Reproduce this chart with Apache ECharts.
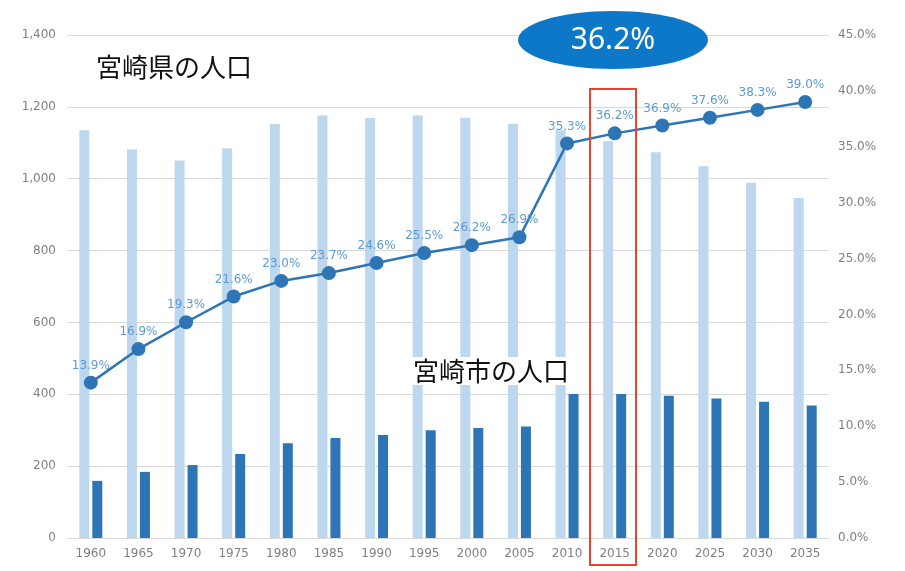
<!DOCTYPE html>
<html>
<head>
<meta charset="utf-8">
<script src="https://cdn.jsdelivr.net/npm/echarts@6/dist/echarts.min.js"></script>
<style>
  html, body { margin: 0; padding: 0; background: #ffffff; }
  #chart { width: 905px; height: 571px; }
</style>
</head>
<body>
<div id="chart"></div>
<script>
// Census years and projections
const years = ['1960','1965','1970','1975','1980','1985','1990','1995','2000','2005','2010','2015','2020','2025','2030','2035'];
// Prefecture population (thousands)
const prefPop = [1135,1081,1051,1085,1152,1176,1169,1176,1170,1153,1135,1104,1074,1035,989,946];
// City population (thousands)
const cityPop = [159,184,203,234,264,278,287,300,306,310,401,401,396,388,379,369];
// Share of the city in the prefecture (%)
const cityShare = [13.9,16.9,19.3,21.6,23.0,23.7,24.6,25.5,26.2,26.9,35.3,36.2,36.9,37.6,38.3,39.0];
const highlightYear = '2015';

const hiIdx = years.indexOf(highlightYear);
const axisFont = 'DejaVu Sans';
const jpFont = '"Noto Sans CJK JP", "Noto Sans", sans-serif';

const chart = echarts.init(document.getElementById('chart'));
chart.setOption({
  animation: false,
  backgroundColor: '#ffffff',
  grid: { left: 67, right: 76, top: 35, bottom: 33 },
  xAxis: {
    type: 'category',
    data: years,
    axisTick: { show: false },
    axisLine: { lineStyle: { color: '#D9D9D9', width: 1 } },
    axisLabel: { color: '#808080', fontFamily: axisFont, fontSize: 12, margin: 10 }
  },
  yAxis: [
    {
      type: 'value', min: 0, max: 1400, interval: 200,
      axisLine: { show: false }, axisTick: { show: false },
      splitLine: { lineStyle: { color: '#D9D9D9', width: 1 } },
      axisLabel: {
        color: '#808080', fontFamily: axisFont, fontSize: 12, margin: 11,
        formatter: v => v.toLocaleString('en-US')
      }
    },
    {
      type: 'value', min: 0, max: 45, interval: 5,
      axisLine: { show: false }, axisTick: { show: false },
      splitLine: { show: false },
      axisLabel: {
        color: '#808080', fontFamily: axisFont, fontSize: 12, margin: 9,
        formatter: v => v.toFixed(1) + '%'
      }
    }
  ],
  series: [
    {
      name: '宮崎県の人口', type: 'bar', data: prefPop,
      barWidth: 10, barGap: '30%',
      itemStyle: { color: '#BDD7EE' }
    },
    {
      name: '宮崎市の人口', type: 'bar', data: cityPop,
      barWidth: 10,
      itemStyle: { color: '#2E75B6' }
    },
    {
      name: '割合', type: 'line', yAxisIndex: 1, data: cityShare,
      symbol: 'circle', symbolSize: 14,
      lineStyle: { color: '#2E75B6', width: 2.5 },
      itemStyle: { color: '#2E75B6' },
      label: {
        show: true, position: 'top', distance: 4,
        color: '#5B9BD5', fontFamily: axisFont, fontSize: 12,
        formatter: p => p.value.toFixed(1) + '%'
      },
      z: 5
    }
  ],
  graphic: [
    {
      type: 'text', left: 95, top: 53, z: 20,
      style: { text: '宮崎県の人口', fill: '#111111', font: '26px ' + jpFont,
               backgroundColor: '#ffffff', padding: [1, 1] }
    },
    {
      type: 'text', left: 412, top: 357, z: 20,
      style: { text: '宮崎市の人口', fill: '#111111', font: '26px ' + jpFont,
               backgroundColor: '#ffffff', padding: [1, 1] }
    },
    {
      type: 'rect', z: 20,
      shape: { x: 590, y: 89, width: 46, height: 476 },
      style: { fill: 'none', stroke: '#E8442E', lineWidth: 2 }
    },
    {
      type: 'ellipse', z: 20,
      shape: { cx: 613, cy: 40, rx: 95, ry: 29 },
      style: { fill: '#0E78C8' }
    },
    {
      type: 'text', x: 613, y: 40, z: 21,
      style: {
        text: cityShare[hiIdx].toFixed(1) + '%', fill: '#ffffff',
        font: '30px "Noto Sans", sans-serif', textAlign: 'center', textVerticalAlign: 'middle'
      }
    }
  ]
});
</script>
</body>
</html>
